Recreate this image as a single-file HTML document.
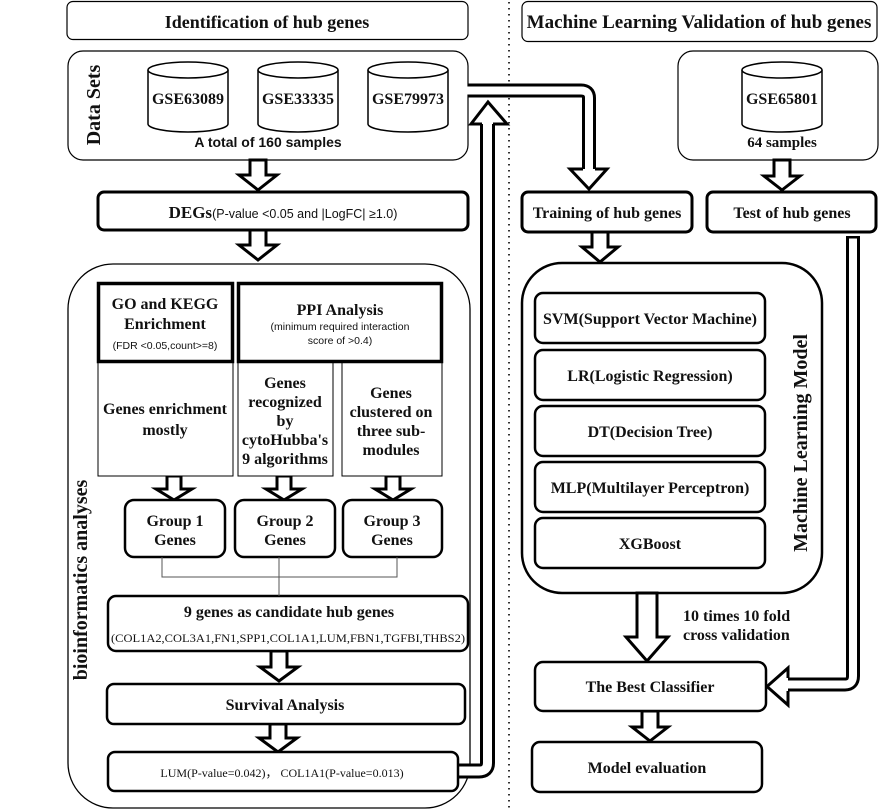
<!DOCTYPE html>
<html><head><meta charset="utf-8"><style>
html,body{margin:0;padding:0;background:#fff;}
svg{display:block;}
.s{font-family:"Liberation Serif",serif;font-weight:bold;fill:#111;}
.a{font-family:"Liberation Sans",sans-serif;fill:#111;}
</style></head><body>
<svg width="879" height="812" viewBox="0 0 879 812" xmlns="http://www.w3.org/2000/svg">
<g fill="none" stroke="#000">
<line x1="509" y1="2" x2="509" y2="812" stroke-width="2" stroke-dasharray="1.5 4.5" stroke="#333"/>
<rect x="67" y="1.5" width="401" height="38" rx="6" stroke-width="1.2"/>
<rect x="522" y="1.5" width="355" height="40" rx="6" stroke-width="1.2"/>
<rect x="68" y="51" width="400" height="109" rx="15" stroke-width="1.2"/>
<rect x="678" y="51" width="200" height="109" rx="15" stroke-width="1.2"/>
<rect x="68" y="264" width="402" height="544" rx="45" stroke-width="1.3"/>
<rect x="522" y="263" width="300" height="330" rx="40" stroke-width="2.5"/>
</g>
<g fill="#fff" stroke="#000" stroke-width="1.5">
<path d="M148,70 V124 A40,8 0 0 0 228,124 V70"/><ellipse cx="188" cy="70" rx="40" ry="8"/>
<path d="M258,70 V124 A40,8 0 0 0 338,124 V70"/><ellipse cx="298" cy="70" rx="40" ry="8"/>
<path d="M368,70 V124 A40,8 0 0 0 448,124 V70"/><ellipse cx="408" cy="70" rx="40" ry="8"/>
<path d="M742,70 V124 A40,8 0 0 0 822,124 V70"/><ellipse cx="782" cy="70" rx="40" ry="8"/>
</g>
<g fill="none" stroke-linejoin="round">
<path d="M459,771 H479 Q487.5,771 487.5,763 V124" stroke="#000" stroke-width="15"/>
<path d="M459,771 H479 Q487.5,771 487.5,763 V122" stroke="#fff" stroke-width="9"/>
<path d="M468,90.5 H581 Q589,90.5 589,98 V170" stroke="#000" stroke-width="14"/>
<path d="M466,90.5 H581 Q589,90.5 589,98 V172" stroke="#fff" stroke-width="8"/>
<path d="M853,236 V676 Q853,684.5 845,684.5 H787" stroke="#000" stroke-width="14"/>
<path d="M853,238.5 V676 Q853,684.5 845,684.5 H785" stroke="#fff" stroke-width="8"/>
</g>
<g fill="#fff" stroke="#000" stroke-width="3" stroke-linejoin="miter">
<polyline points="482,124 471,124 488,102 507,124 493,124"/>
<polyline points="583,169 570,169 589,189 607,169 595,169"/>
<polyline points="788,678 788,668 767,686.5 788,705 788,691"/>
</g>
<g fill="#fff" stroke="#000" stroke-width="3">
<polygon points="250,160 266,160 266,175 277,175 258,190 239,175 250,175"/>
<polygon points="250,230 266,230 266,245 277,245 258,260 239,245 250,245"/>
<polygon points="167,476 181,476 181,489 192,489 174,500 156,489 167,489"/>
<polygon points="277,476 291,476 291,489 302,489 284,500 266,489 277,489"/>
<polygon points="386,476 400,476 400,489 411,489 393,500 375,489 386,489"/>
<polygon points="271,651 287,651 287,667 298,667 279,681 260,667 271,667"/>
<polygon points="270,724 286,724 286,738 297,738 278,752 259,738 270,738"/>
<polygon points="774,160 790,160 790,176 800,176 782,190 764,176 774,176"/>
<polygon points="592,232 608,232 608,247 618,247 600,262 582,247 592,247"/>
<polygon points="637,593 657,593 657,637 668,637 647,661 626,637 637,637"/>
<polygon points="642,711 658,711 658,727 668,727 650,741 632,727 642,727"/>
</g>
<g fill="#fff" stroke="#000">
<rect x="98" y="192" width="370" height="38" rx="6" stroke-width="3"/>
<rect x="98" y="362" width="135" height="114" stroke-width="1"/>
<rect x="238" y="362" width="95" height="114" stroke-width="1"/>
<rect x="342" y="362" width="100" height="114" stroke-width="1"/>
<rect x="98.5" y="283.5" width="134" height="78" stroke-width="3.5"/>
<rect x="238.5" y="283.5" width="203" height="78" stroke-width="3.5"/>
<rect x="125" y="500" width="100" height="57" rx="9" stroke-width="2.5"/>
<rect x="235" y="500" width="100" height="57" rx="9" stroke-width="2.5"/>
<rect x="343" y="500" width="99" height="57" rx="9" stroke-width="2.5"/>
<rect x="108" y="596" width="360" height="55" rx="8" stroke-width="2.5"/>
<rect x="107" y="684" width="358" height="40" rx="7" stroke-width="2.5"/>
<rect x="108" y="752" width="350" height="39" rx="7" stroke-width="2.5"/>
<rect x="522" y="192" width="170" height="40" rx="6" stroke-width="3"/>
<rect x="707" y="192" width="169" height="40" rx="6" stroke-width="3"/>
<rect x="535" y="293" width="230" height="50" rx="8" stroke-width="2.5"/>
<rect x="535" y="350" width="230" height="50" rx="8" stroke-width="2.5"/>
<rect x="535" y="406" width="230" height="50" rx="8" stroke-width="2.5"/>
<rect x="535" y="462" width="230" height="50" rx="8" stroke-width="2.5"/>
<rect x="535" y="518" width="230" height="50" rx="8" stroke-width="2.5"/>
<rect x="535" y="662" width="231" height="49" rx="8" stroke-width="2.5"/>
<rect x="532" y="742" width="230" height="50" rx="8" stroke-width="2.5"/>
</g>
<g stroke="#555" stroke-width="1" fill="none">
<path d="M162,557 V577 H397 V557"/>
<path d="M279,557 V596"/>
</g>
<g class="s" text-anchor="middle">
<text x="267" y="28" font-size="18">Identification of hub genes</text>
<text x="699" y="28" font-size="19">Machine Learning Validation of hub genes</text>
<text x="188" y="104" font-size="16">GSE63089</text>
<text x="298" y="104" font-size="16">GSE33335</text>
<text x="408" y="104" font-size="16">GSE79973</text>
<text x="782" y="104" font-size="16">GSE65801</text>
<text x="782" y="147" font-size="15">64 samples</text>
<text x="0" y="0" font-size="20" transform="translate(100,105) rotate(-90)">Data Sets</text>
<text x="0" y="0" font-size="20" transform="translate(87,580) rotate(-90)">bioinformatics analyses</text>
<text x="0" y="0" font-size="20" transform="translate(807,443) rotate(-90)">Machine  Learning  Model</text>
<text x="165" y="309" font-size="16">GO and KEGG</text>
<text x="165" y="329" font-size="16">Enrichment</text>
<text x="340" y="315" font-size="16">PPI Analysis</text>
<text x="165" y="414" font-size="16">Genes enrichment</text>
<text x="165" y="435" font-size="16">mostly</text>
<text x="285" y="388" font-size="16">Genes</text>
<text x="285" y="407" font-size="16">recognized</text>
<text x="285" y="426" font-size="16">by</text>
<text x="285" y="445" font-size="16">cytoHubba's</text>
<text x="285" y="464" font-size="16">9 algorithms</text>
<text x="391" y="398" font-size="16">Genes</text>
<text x="391" y="417" font-size="16">clustered on</text>
<text x="391" y="436" font-size="16">three sub-</text>
<text x="391" y="455" font-size="16">modules</text>
<text x="175" y="526" font-size="16">Group 1</text>
<text x="175" y="545" font-size="16">Genes</text>
<text x="285" y="526" font-size="16">Group 2</text>
<text x="285" y="545" font-size="16">Genes</text>
<text x="392" y="526" font-size="16">Group 3</text>
<text x="392" y="545" font-size="16">Genes</text>
<text x="289" y="617" font-size="16">9 genes as candidate hub genes</text>
<text x="288" y="642" font-size="12" font-weight="normal" textLength="354" lengthAdjust="spacingAndGlyphs">(COL1A2,COL3A1,FN1,SPP1,COL1A1,LUM,FBN1,TGFBI,THBS2)</text>
<text x="285" y="710" font-size="16">Survival Analysis</text>
<text x="282" y="777" font-size="12" font-weight="normal">LUM(P-value=0.042)，  COL1A1(P-value=0.013)</text>
<text x="607" y="218" font-size="16">Training of hub genes</text>
<text x="792" y="218" font-size="16">Test of hub genes</text>
<text x="650" y="324" font-size="16">SVM(Support Vector Machine)</text>
<text x="650" y="381" font-size="16">LR(Logistic Regression)</text>
<text x="650" y="437" font-size="16">DT(Decision Tree)</text>
<text x="650" y="493" font-size="16">MLP(Multilayer Perceptron)</text>
<text x="650" y="549" font-size="16">XGBoost</text>
<text x="650" y="692" font-size="16">The Best Classifier</text>
<text x="647" y="773" font-size="16">Model evaluation</text>
<text x="683" y="621" font-size="16" text-anchor="start">10 times 10 fold</text>
<text x="683" y="640" font-size="16" text-anchor="start">cross validation</text>
<text x="283" y="218" font-size="17">DEGs<tspan class="a" font-weight="normal" font-size="12.5">(P-value &lt;0.05 and |LogFC| ≥1.0)</tspan></text>
</g>
<g class="a" text-anchor="middle">
<text x="268" y="147" font-size="14" font-weight="bold">A total of 160 samples</text>
<text x="165" y="349" font-size="10.5">(FDR &lt;0.05,count&gt;=8)</text>
<text x="340" y="330" font-size="10.5">(minimum required interaction</text>
<text x="340" y="344" font-size="10.5">score of &gt;0.4)</text>
</g>
</svg>
</body></html>
